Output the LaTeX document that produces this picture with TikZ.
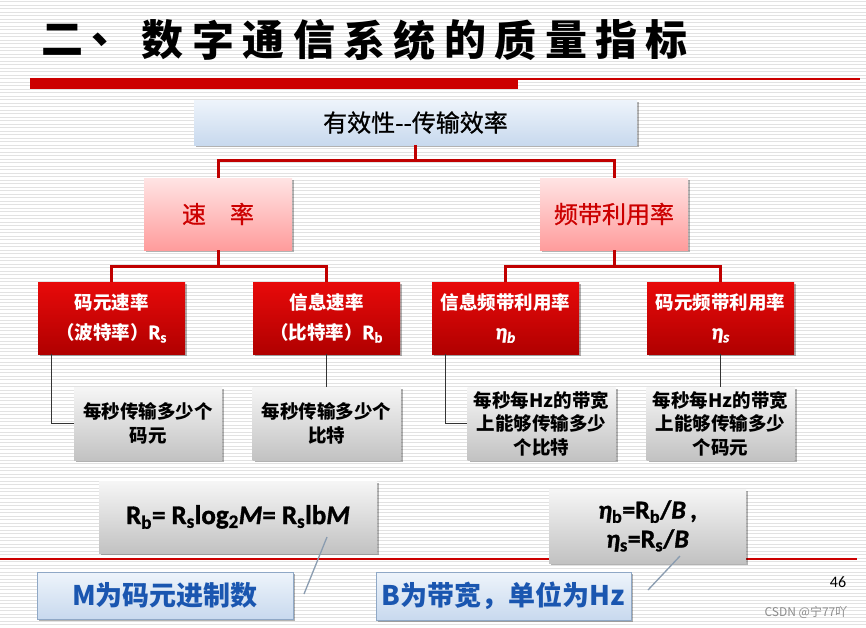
\documentclass[tikz,border=0pt]{standalone}
\usepackage{fontspec}
\setmainfont{Carlito}[BoldFont={Carlito Bold},ItalicFont={Carlito Italic},BoldItalicFont={Carlito Bold Italic}]
\newfontfamily\fml{Carlito Bold}[ItalicFont={Carlito Bold Italic},FakeBold=1.2]
\newfontfamily\cjk{Noto Sans CJK SC}
\newfontfamily\cjkm{Noto Sans CJK SC}[FakeBold=0.8]
\usetikzlibrary{shadows}
\definecolor{barred}{HTML}{CC0000}
\definecolor{linkred}{HTML}{C00000}
\definecolor{rtop}{HTML}{E80A0A}
\definecolor{rbot}{HTML}{B00000}
\definecolor{ptop}{HTML}{FFE4E4}
\definecolor{pbot}{HTML}{FF9C9C}
\definecolor{ptext}{HTML}{CC0000}
\definecolor{gtop}{HTML}{F6F6F6}
\definecolor{gbot}{HTML}{C2C2C2}
\definecolor{btop}{HTML}{EEF4FB}
\definecolor{bbot}{HTML}{C8D9EE}
\definecolor{bdraw}{HTML}{8FA8C6}
\definecolor{btext}{HTML}{1A56B0}
\definecolor{callc}{HTML}{8A9CB0}
\definecolor{stripec}{HTML}{E2E2E2}
\tikzset{
  shad/.style={drop shadow={shadow xshift=2pt,shadow yshift=-2pt,opacity=.3,fill=black}},
  topbox/.style={shad,rectangle,inner sep=0pt,minimum width=443pt,minimum height=45pt,
    top color=btop,bottom color=bbot,font=\cjkm\fontsize{24}{28}\selectfont},
  pbox/.style={shad,rectangle,inner sep=0pt,minimum width=148pt,minimum height=72pt,
    top color=ptop,bottom color=pbot,text=ptext,font=\cjkm\fontsize{24}{28}\selectfont},
  rbox/.style={shad,rectangle,inner sep=0pt,minimum width=147pt,minimum height=72pt,
    top color=rtop,bottom color=rbot,text=white,align=center,
    font=\cjk\bfseries\fontsize{18.5}{30}\selectfont},
  gbox/.style={shad,rectangle,inner sep=0pt,minimum width=148pt,minimum height=73pt,
    top color=gtop,bottom color=gbot,text=black,align=center,
    font=\cjk\bfseries\fontsize{18.5}{23.5}\selectfont},
  fbox/.style={shad,rectangle,inner sep=0pt,top color=gtop,bottom color=gbot,align=center},
  bbox/.style={shad,rectangle,inner sep=0pt,draw=bdraw,line width=0.8pt,
    top color=btop,bottom color=bbot,text=btext,font=\cjk\bfseries\fontsize{27}{30}\selectfont},
  redlink/.style={draw=linkred,line width=3pt},
  blacklink/.style={draw=black!80,line width=1.2pt},
  callout/.style={draw=callc,line width=1.3pt},
}
\begin{document}
\begin{tikzpicture}[x=1pt,y=-1pt]
\useasboundingbox (0,0) rectangle (866,627);
\fill[white] (0,0) rectangle (866,627);
\foreach \yy in {1.5,5,...,627} \draw[stripec,line width=1pt] (0,\yy) -- (866,\yy);
% title
\foreach \ch [count=\i from 0] in {二,、,数,字,通,信,系,统,的,质,量,指,标}
  \node[font=\cjk\bfseries\fontsize{42}{44}\selectfont,inner sep=0pt] (t\i) at (62+\i*50.4,40) {\ch};
\fill[barred] (30,78) rectangle (518,89);
\draw[barred,line width=1.5pt] (518,79) -- (860,79);
% bottom red line
\draw[barred,line width=1.2pt] (0,559) -- (857,559);
% boxes
\node[topbox] (top) at (415.5,122.5) {有效性--传输效率};
\node[pbox] (sulv) at (218,214) {速\hspace{1em}率};
\node[pbox] (pin) at (614,214) {频带利用率};
\node[rbox] (a) at (111.5,318) {码元速率\\（波特率）{\fml\fontsize{21}{30}\selectfont R\textsubscript{s}}};
\node[rbox] (b) at (326.5,318) {信息速率\\（比特率）{\fml\fontsize{21}{30}\selectfont R\textsubscript{b}}};
\node[rbox] (c) at (505.5,318) {信息频带利用率\\{\fml\itshape\fontsize{22}{30}\selectfont η\textsubscript{b}}};
\node[rbox] (d) at (720.5,318) {码元频带利用率\\{\fml\itshape\fontsize{22}{30}\selectfont η\textsubscript{s}}};
\node[gbox] (g1) at (148,423.5) {每秒传输多少个\\码元};
\node[gbox] (g2) at (326.5,423.5) {每秒传输多少个\\比特};
\node[gbox] (g3) at (541.5,423.5) {每秒每Hz的带宽\\上能够传输多少\\个比特};
\node[gbox] (g4) at (720.5,423.5) {每秒每Hz的带宽\\上能够传输多少\\个码元};
\node[fbox,font=\fml\fontsize{27}{28}\selectfont,minimum width=278pt,minimum height=72pt] (f1) at (238,517)
  {R\textsubscript{b}= R\textsubscript{s}log\textsubscript{2}\textit{M}= R\textsubscript{s}lb\textit{M}};
\node[fbox,font=\fml\fontsize{26}{29}\selectfont,minimum width=197pt,minimum height=74pt] (f2) at (647.5,526)
  {\textit{η}\textsubscript{b}=R\textsubscript{b}/\textit{B}\,,\\ \textit{η}\textsubscript{s}=R\textsubscript{s}/\textit{B}};
\node[bbox,minimum width=256pt,minimum height=47pt] (m1) at (165,595.5) {M为码元进制数};
\node[bbox,minimum width=255pt,minimum height=48pt] (m2) at (503.5,596) {B为带宽，单位为Hz};
% red connectors
\coordinate (j1) at (415.5,160);
\draw[redlink] (top.south) -- (j1);
\draw[redlink] (sulv.north) |- (j1) -| (pin.north);
\coordinate (j2) at (218,266);
\draw[redlink] (sulv.south) -- (j2);
\draw[redlink] (a.north) |- (j2) -| (b.north);
\coordinate (j3) at (614,266);
\draw[redlink] (pin.south) -- (j3);
\draw[redlink] (c.north) |- (j3) -| (d.north);
% black connectors
\draw[blacklink] ([xshift=14pt]a.south west) |- (g1.west);
\draw[blacklink] (b.south) -- (g2.north);
\draw[blacklink] ([xshift=14pt]c.south west) |- (g3.west);
\draw[blacklink] (d.south) -- (g4.north);
% callouts
\coordinate (c1s) at (327,537);
\coordinate (c1e) at (304,594);
\draw[callout] (c1s) -- (c1e);
\coordinate (c2s) at (680,556);
\coordinate (c2e) at (648,590);
\draw[callout] (c2s) -- (c2e);
% page number and watermark
\node[font=\fontsize{16}{18}\selectfont,inner sep=0pt] (pg) at (838,582) {46};
\node[font=\cjk\fontsize{12}{14}\selectfont,text=black!45,inner sep=0pt] (wm) at (806,612) {CSDN @宁77吖};
\end{tikzpicture}
\end{document}
